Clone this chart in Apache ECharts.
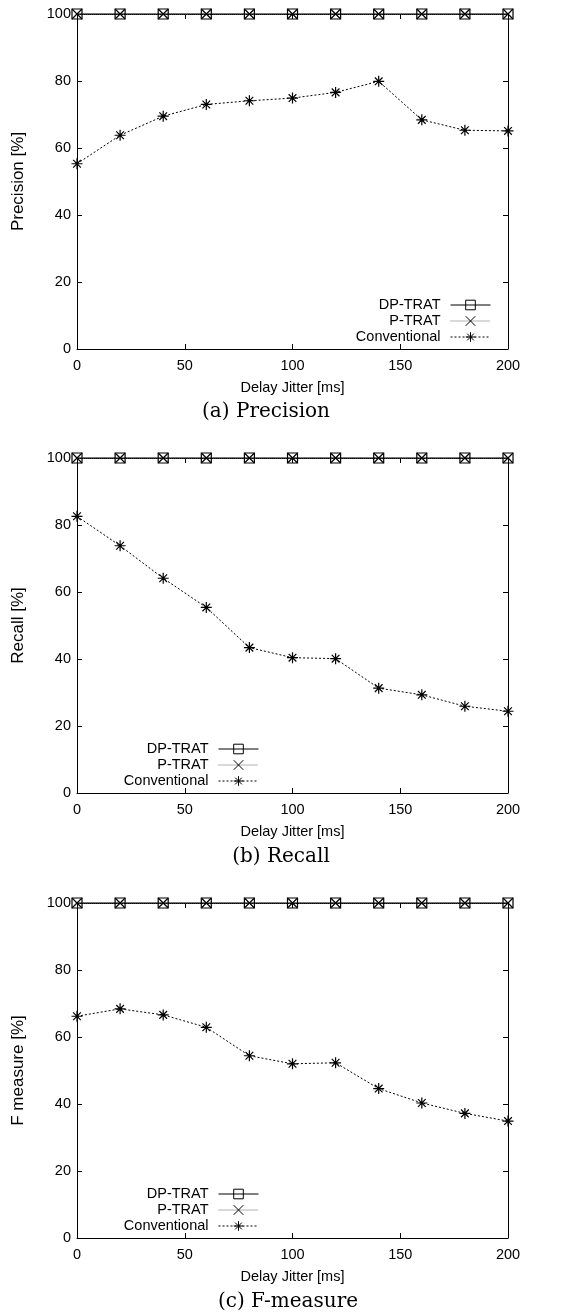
<!DOCTYPE html>
<html>
<head>
<meta charset="utf-8">
<script src="https://cdn.jsdelivr.net/npm/echarts@6/dist/echarts.min.js"></script>
<style>
  html, body { margin: 0; padding: 0; background: #fff; }
  #main { width: 565px; height: 1316px; }
</style>
</head>
<body>
<div id="main"></div>
<script>
// x values (delay jitter, ms)
var jitter = [0, 20, 40, 60, 80, 100, 120, 140, 160, 180, 200];

// (a) precision
var precisionDP = [100, 100, 100, 100, 100, 100, 100, 100, 100, 100, 100];
var precisionP = [100, 100, 100, 100, 100, 100, 100, 100, 100, 100, 100];
var precisionConv = [55.3, 63.8, 69.5, 73.0, 74.1, 74.9, 76.6, 79.9, 68.4, 65.3, 65.1];

// (b) recall
var recallDP = [100, 100, 100, 100, 100, 100, 100, 100, 100, 100, 100];
var recallP = [100, 100, 100, 100, 100, 100, 100, 100, 100, 100, 100];
var recallConv = [82.6, 73.8, 64.1, 55.4, 43.4, 40.4, 40.1, 31.3, 29.3, 25.9, 24.4];

// (c) F measure
var fmeasureDP = [100, 100, 100, 100, 100, 100, 100, 100, 100, 100, 100];
var fmeasureP = [100, 100, 100, 100, 100, 100, 100, 100, 100, 100, 100];
var fmeasureConv = [66.2, 68.4, 66.6, 62.9, 54.4, 52.0, 52.3, 44.6, 40.3, 37.2, 34.9];

var seriesNames = ['DP-TRAT', 'P-TRAT', 'Conventional'];
var yNames = ['Precision [%]', 'Recall [%]', 'F measure [%]'];
var captions = ['(a) Precision', '(b) Recall', '(c) F-measure'];

var panels = [
    [precisionDP, precisionP, precisionConv],
    [recallDP, recallP, recallConv],
    [fmeasureDP, fmeasureP, fmeasureConv]
];

var sans = '"Liberation Sans", Arial, Helvetica, sans-serif';
var gridTops = [14, 458, 903];
var captionPos = [[266, 412], [281, 857], [288, 1302]];
var legendPos = [{right: 69, top: 292}, {right: 301, top: 736}, {right: 301, top: 1181}];

// gnuplot style point shapes
var crossPath = 'path://M0,0 L10,10 M10,0 L0,10';
var starPath = 'path://M0,5 L10,5 M5,0 L5,10 M1.5,1.5 L8.5,8.5 M8.5,1.5 L1.5,8.5';

function pairs(ys) {
    return jitter.map(function (x, i) { return [x, ys[i]]; });
}

function frameAxis(extra) {
    var ax = {
        type: 'value',
        axisLine: { show: true, onZero: false, lineStyle: { color: '#000', width: 1 } },
        axisTick: { show: true, inside: true, length: 5, lineStyle: { color: '#000', width: 1 } },
        axisLabel: { show: false },
        splitLine: { show: false }
    };
    for (var k in extra) ax[k] = extra[k];
    return ax;
}

var grids = [], xAxes = [], yAxes = [], series = [], legends = [], graphics = [];

for (var p = 0; p < 3; p++) {
    grids.push({ left: 77, top: gridTops[p], width: 431, height: 335, containLabel: false });

    // bottom + mirrored top
    xAxes.push(frameAxis({
        gridIndex: p, min: 0, max: 200, interval: 50, position: 'bottom',
        name: 'Delay Jitter [ms]', nameLocation: 'middle', nameGap: 31,
        nameTextStyle: { fontFamily: sans, fontSize: 14.5, color: '#000' },
        axisLabel: { fontFamily: sans, fontSize: 14.5, color: '#000', margin: 9 }
    }));
    xAxes.push(frameAxis({ gridIndex: p, min: 0, max: 200, interval: 50, position: 'top' }));

    // left + mirrored right
    yAxes.push(frameAxis({
        gridIndex: p, min: 0, max: 100, interval: 20, position: 'left',
        name: yNames[p], nameLocation: 'middle', nameGap: 50,
        nameTextStyle: { fontFamily: sans, fontSize: 17, color: '#000' },
        axisLabel: { fontFamily: sans, fontSize: 14.5, color: '#000', margin: 6 }
    }));
    yAxes.push(frameAxis({ gridIndex: p, min: 0, max: 100, interval: 20, position: 'right' }));

    var d = panels[p];
    series.push({
        name: 'DP-TRAT', type: 'line', xAxisIndex: 2 * p, yAxisIndex: 2 * p,
        data: pairs(d[0]), clip: false,
        symbol: 'rect', symbolSize: 10,
        lineStyle: { color: '#000', width: 1.2, type: 'solid' },
        itemStyle: { color: 'rgba(0,0,0,0)', borderColor: '#000', borderWidth: 1.2 }
    });
    series.push({
        name: 'P-TRAT', type: 'line', xAxisIndex: 2 * p, yAxisIndex: 2 * p,
        data: pairs(d[1]), clip: false,
        symbol: crossPath, symbolSize: 10,
        lineStyle: { color: '#666', width: 1, type: [1, 1] },
        itemStyle: { color: 'rgba(0,0,0,0)', borderColor: '#000', borderWidth: 1.2 }
    });
    series.push({
        name: 'Conventional', type: 'line', xAxisIndex: 2 * p, yAxisIndex: 2 * p,
        data: pairs(d[2]), clip: false,
        symbol: starPath, symbolSize: 11,
        lineStyle: { color: '#000', width: 1, type: [2, 2] },
        itemStyle: { color: 'rgba(0,0,0,0)', borderColor: '#000', borderWidth: 1.2 }
    });

    legends.push({
        orient: 'vertical', align: 'right',
        right: legendPos[p].right, top: legendPos[p].top,
        itemWidth: 40, itemHeight: 12, itemGap: 0,
        selectedMode: false,
        lineStyle: { width: 1 },
        itemStyle: { borderWidth: 1 },
        textStyle: { fontFamily: sans, fontSize: 14.5, color: '#000', lineHeight: 16, padding: [0, 5, 0, 0] },
        data: seriesNames
    });

    graphics.push({
        type: 'text', x: captionPos[p][0], y: captionPos[p][1],
        style: {
            text: captions[p], font: '20px "DejaVu Serif", serif', fill: '#000',
            align: 'center', verticalAlign: 'middle'
        }
    });
}

var chart = echarts.init(document.getElementById('main'));
chart.setOption({
    backgroundColor: '#fff',
    animation: false,
    grid: grids,
    xAxis: xAxes,
    yAxis: yAxes,
    legend: legends,
    series: series,
    graphic: graphics
});
</script>
</body>
</html>
